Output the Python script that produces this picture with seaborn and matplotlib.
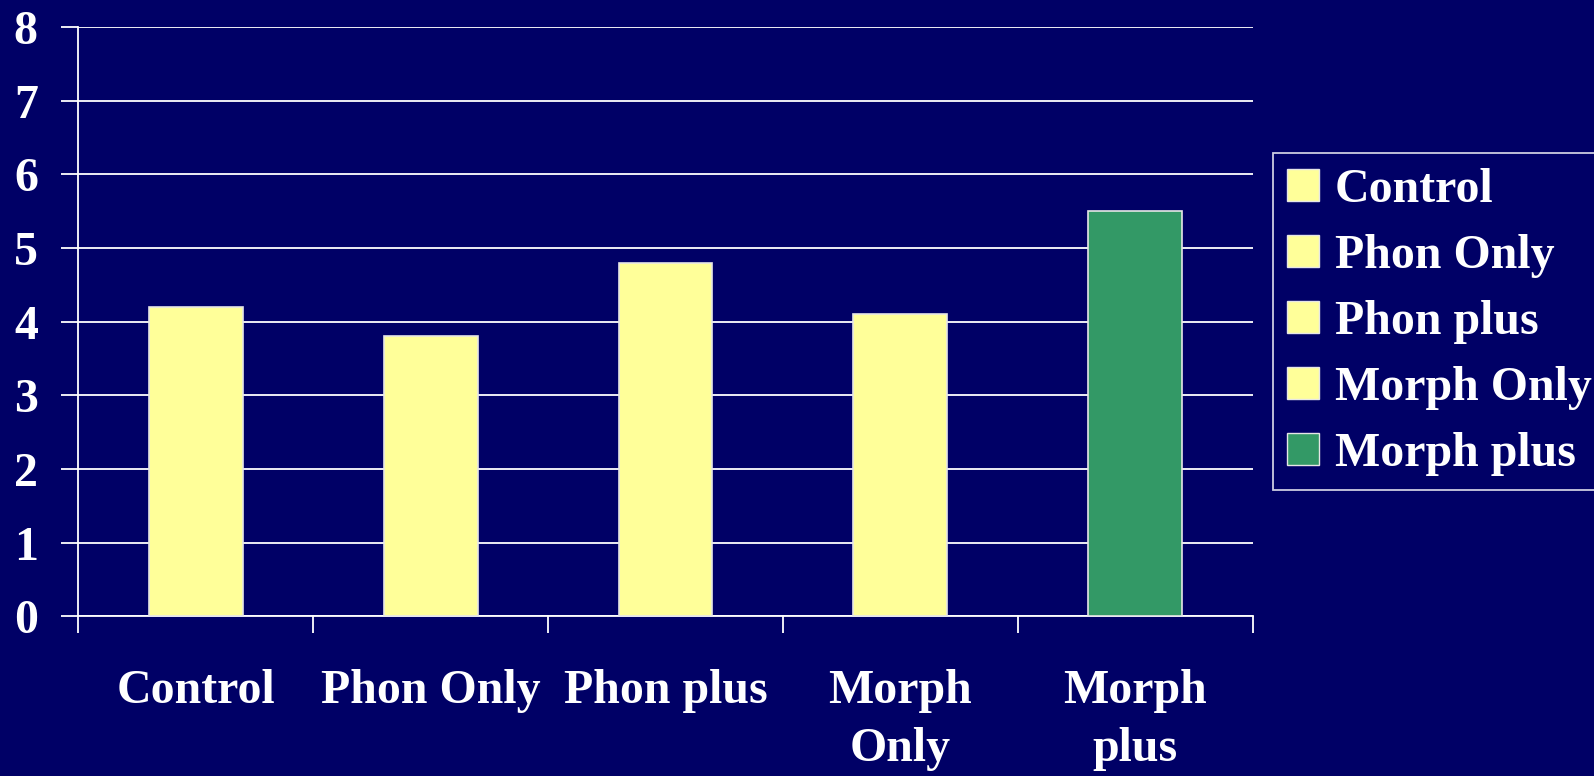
import matplotlib
matplotlib.use("Agg")
import matplotlib.pyplot as plt
from matplotlib.patches import Patch
import seaborn as sns
import pandas as pd

# values
categories = ["Control", "Phon Only", "Phon plus", "Morph Only", "Morph plus"]
tick_labels = ["Control", "Phon Only", "Phon plus", "Morph\nOnly", "Morph\nplus"]
scores = [4.2, 3.8, 4.8, 4.1, 5.5]
bar_colors = ["#FFFF99", "#FFFF99", "#FFFF99", "#FFFF99", "#339966"]

BG = "#000066"
FS = 34.5

sns.set_style("white")
plt.rcParams["font.family"] = ["Liberation Serif", "DejaVu Serif"]
plt.rcParams["font.weight"] = "bold"

data = pd.DataFrame({"group": categories, "score": scores})

fig = plt.figure(figsize=(15.94, 7.76), dpi=100, facecolor=BG)
ax = fig.add_axes([0.049, 0.206, 0.737, 0.759])
ax.set_facecolor(BG)

sns.barplot(data=data, x="group", y="score", hue="group", palette=bar_colors,
            order=categories, hue_order=categories, width=0.4, saturation=1,
            edgecolor="#e6e6e6", linewidth=1.2, legend=False, ax=ax, zorder=3)

ax.set_xlim(-0.5, len(categories) - 0.5)
ax.set_ylim(0, 8)
ax.set_yticks(range(0, 9))
ax.yaxis.grid(True, color="white", linewidth=1.3, zorder=0)
ax.set_axisbelow(True)

# category labels centred, tick marks at the boundaries
ax.set_xticks(range(len(categories)))
ax.set_xticklabels(tick_labels, linespacing=1.4, va="top")
ax.set_xticks([i - 0.5 for i in range(len(categories) + 1)], minor=True)
ax.tick_params(left=True, bottom=True, which="both")
ax.tick_params(axis="x", which="major", length=0, pad=38, labelsize=FS,
               labelcolor="white")
ax.tick_params(axis="x", which="minor", length=12, width=1.3, color="white",
               direction="out")
ax.tick_params(axis="y", length=12, width=1.3, color="white", direction="out",
               pad=17, labelsize=FS, labelcolor="white")
for lab in ax.get_xticklabels() + ax.get_yticklabels():
    lab.set_fontweight("bold")

ax.set_xlabel("")
ax.set_ylabel("")
for side in ["top", "right"]:
    ax.spines[side].set_visible(False)
for side in ["left", "bottom"]:
    ax.spines[side].set_color("white")
    ax.spines[side].set_linewidth(1.3)

handles = [Patch(facecolor=c, edgecolor="#e6e6e6", linewidth=1) for c in bar_colors]
leg = ax.legend(handles, categories, loc="center left", bbox_to_anchor=(1.017, 0.50),
                frameon=True, fancybox=False, facecolor=BG, edgecolor="white",
                handlelength=0.66, handleheight=0.66, handletextpad=0.33,
                labelspacing=0.46, borderpad=0.3, borderaxespad=0.0,
                prop={"weight": "bold", "size": FS})
leg.get_frame().set_linewidth(1.3)
for t in leg.get_texts():
    t.set_color("white")

fig.savefig("out.png", dpi=100, facecolor=BG)
